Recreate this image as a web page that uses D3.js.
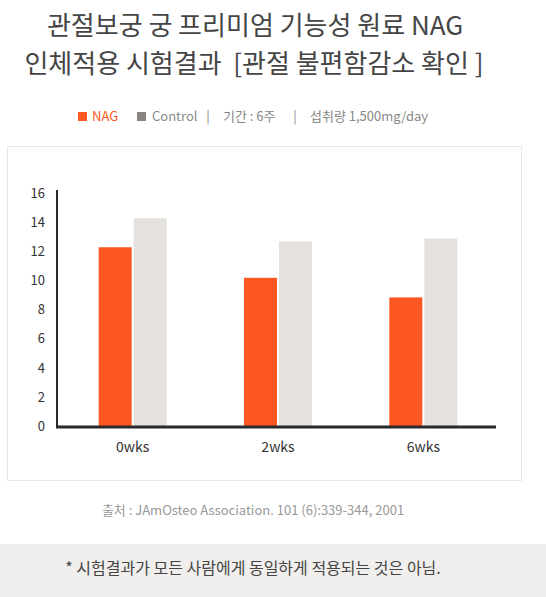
<!DOCTYPE html>
<html>
<head>
<meta charset="utf-8">
<script src="https://cdn.jsdelivr.net/npm/d3@7"></script>
<style>
  body { margin: 0; background: #fff; font-family: "Noto Sans CJK KR", "Noto Sans", sans-serif; }
</style>
</head>
<body>
<svg width="546" height="597"></svg>
<script>
// data
const weeks = ["0wks", "2wks", "6wks"];
const seriesNames = ["NAG", "Control"];
const nagValues = [12.3, 10.2, 8.85];
const controlValues = [14.3, 12.7, 12.9];
const yTicks = [0, 2, 4, 6, 8, 10, 12, 14, 16];

const colors = { NAG: "#fe5722", Control: "#e4e1de" };

const svg = d3.select("svg");

// title
const title = svg.append("g")
    .attr("fill", "#454545")
    .attr("font-size", 26)
    .attr("text-anchor", "middle");
title.append("text").attr("x", 255).attr("y", 35).text("관절보궁 궁 프리미엄 기능성 원료 NAG");
title.append("text").attr("x", 254).attr("y", 73).attr("xml:space", "preserve")
    .text("인체적용 시험결과  [관절 불편함감소 확인 ]");

// legend line
const legend = svg.append("g").attr("font-size", 13).attr("fill", "#888");
legend.append("rect").attr("x", 78).attr("y", 112).attr("width", 9).attr("height", 9).attr("fill", colors.NAG);
legend.append("text").attr("x", 92).attr("y", 121).attr("fill", colors.NAG).text("NAG");
legend.append("rect").attr("x", 137).attr("y", 112).attr("width", 9).attr("height", 9).attr("fill", "#8b847f");
legend.append("text").attr("x", 152).attr("y", 121).text("Control");
legend.append("text").attr("x", 208).attr("y", 121).attr("text-anchor", "middle").text("|");
legend.append("text").attr("x", 223).attr("y", 121).text("기간 : 6주");
legend.append("text").attr("x", 295).attr("y", 121).attr("text-anchor", "middle").text("|");
legend.append("text").attr("x", 310).attr("y", 121).text("섭취량 1,500mg/day");

// chart box
svg.append("rect")
    .attr("x", 7.5).attr("y", 146.5)
    .attr("width", 514).attr("height", 334)
    .attr("fill", "#fff")
    .attr("stroke", "#e8e8e8");

// scales
const x = d3.scaleBand().domain(weeks).range([60, 496]);
const y = d3.scaleLinear().domain([0, 16]).range([426, 193.5]);
const barW = 33, gap = 2;

// bars
const groups = svg.append("g").selectAll("g")
    .data(weeks)
    .join("g")
    .attr("transform", d => `translate(${x(d) + x.bandwidth() / 2},0)`);

groups.append("rect")
    .attr("x", -barW - gap / 2)
    .attr("width", barW)
    .attr("y", (d, i) => y(nagValues[i]))
    .attr("height", (d, i) => y(0) - y(nagValues[i]))
    .attr("fill", colors.NAG);

groups.append("rect")
    .attr("x", gap / 2)
    .attr("width", barW)
    .attr("y", (d, i) => y(controlValues[i]))
    .attr("height", (d, i) => y(0) - y(controlValues[i]))
    .attr("fill", colors.Control);

// y axis
const yAxis = svg.append("g")
    .attr("transform", "translate(57,0)")
    .call(d3.axisLeft(y).tickValues(yTicks).tickSize(0).tickPadding(12));
yAxis.select(".domain").attr("stroke", "#2a2a2a").attr("stroke-width", 2)
    .attr("d", "M0,190V427");
yAxis.selectAll("text")
    .attr("font-family", "\"Noto Sans CJK KR\", sans-serif")
    .attr("font-size", 13).attr("fill", "#333");

// x axis
const xAxis = svg.append("g")
    .attr("transform", "translate(0,427)")
    .call(d3.axisBottom(x).tickSize(0).tickPadding(15));
xAxis.select(".domain").attr("stroke", "#2a2a2a").attr("stroke-width", 3)
    .attr("d", "M56,0H496");
xAxis.selectAll("text")
    .attr("font-family", "\"Noto Sans CJK KR\", sans-serif")
    .attr("font-size", 14).attr("fill", "#333");

// source
svg.append("text")
    .attr("x", 253).attr("y", 515)
    .attr("text-anchor", "middle")
    .attr("font-size", 13).attr("fill", "#999")
    .text("출처 : JAmOsteo Association. 101 (6):339-344, 2001");

// footer band
svg.append("rect").attr("x", 0).attr("y", 544).attr("width", 546).attr("height", 53).attr("fill", "#f1efed");
svg.append("text")
    .attr("x", 253).attr("y", 574)
    .attr("text-anchor", "middle")
    .attr("font-size", 16).attr("fill", "#444")
    .text("* 시험결과가 모든 사람에게 동일하게 적용되는 것은 아님.");
</script>
</body>
</html>
